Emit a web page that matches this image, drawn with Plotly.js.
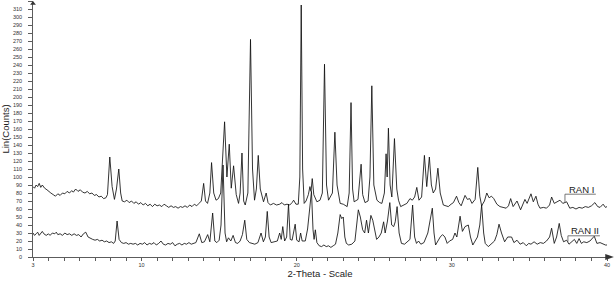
<!DOCTYPE html>
<html>
<head>
<meta charset="utf-8">
<script src="https://cdn.plot.ly/plotly-3.0.1.min.js"></script>
<style>html,body{margin:0;padding:0;background:#fff;}#chart{width:614px;height:282px;}</style>
</head>
<body>
<div id="chart"></div>
<script>
const ran1X = [3.0,3.1,3.2,3.3,3.4,3.5,3.6,3.75,3.9,4.0,4.15,4.3,4.45,4.6,4.75,4.9,5.05,5.2,5.35,5.5,5.6,5.75,5.9,6.05,6.2,6.35,6.5,6.65,6.8,6.95,7.1,7.25,7.4,7.55,7.7,7.8,7.95,8.1,8.25,8.38,8.53,8.65,8.75,8.9,9.05,9.2,9.35,9.5,9.65,9.8,9.95,10.1,10.25,10.4,10.55,10.7,10.85,11.0,11.15,11.3,11.45,11.6,11.75,11.9,12.05,12.2,12.35,12.5,12.65,12.8,12.95,13.1,13.25,13.4,13.55,13.7,13.85,14.0,14.12,14.25,14.4,14.51,14.65,14.8,14.95,15.1,15.35,15.5,15.65,15.78,15.93,16.1,16.25,16.35,16.47,16.58,16.68,16.85,17.02,17.15,17.28,17.4,17.52,17.65,17.86,18.03,18.15,18.3,18.5,18.7,18.9,19.05,19.2,19.37,19.55,19.7,19.8,19.95,20.1,20.2,20.29,20.38,20.48,20.6,20.75,20.85,20.92,21.0,21.1,21.3,21.5,21.65,21.79,21.92,22.05,22.3,22.46,22.6,22.8,23.0,23.12,23.25,23.38,23.5,23.6,23.7,23.95,24.15,24.25,24.4,24.6,24.72,24.84,24.97,25.17,25.35,25.49,25.65,25.76,25.83,25.91,26.02,26.13,26.3,26.45,26.56,26.7,26.9,27.1,27.3,27.45,27.6,27.74,27.88,28.05,28.23,28.38,28.55,28.68,28.8,28.95,29.1,29.25,29.45,29.6,29.77,29.95,30.1,30.3,30.45,30.6,30.85,31.0,31.15,31.3,31.5,31.67,31.8,31.92,32.1,32.25,32.4,32.55,32.7,32.9,33.1,33.3,33.5,33.65,33.79,33.95,34.2,34.43,34.6,34.71,34.85,35.1,35.25,35.42,35.55,35.68,35.9,36.1,36.3,36.43,36.6,36.8,36.97,37.15,37.4,37.6,37.8,38.0,38.2,38.4,38.6,38.8,39.0,39.22,39.4,39.55,39.75,39.9,40.0];
const ran1Y = [88,86,90,88,92,87,90,86,84,82,80,78,76,79,77,80,79,82,80,83,81,85,82,84,81,80,82,79,80,77,78,75,76,73,74,78,125,88,72,85,110,80,70,69,71,68,70,67,69,66,68,65,67,64,66,63,66,64,65,63,66,64,62,64,62,63,61,63,62,64,62,65,63,66,64,67,70,92,70,67,80,118,80,71,73,80,169,100,141,86,114,78,67,80,130,70,65,80,272,110,71,85,127,85,69,80,68,65,67,65,66,68,65,66,65,68,71,66,66,100,315,110,67,70,78,88,82,98,78,69,71,80,241,90,71,80,156,90,67,66,65,63,80,193,85,69,72,116,78,68,70,100,214,90,71,68,67,80,129,100,161,90,75,148,85,71,63,65,67,73,71,75,87,71,75,127,88,125,90,80,85,111,80,65,64,63,66,68,76,68,64,77,72,73,67,72,112,76,64,70,80,74,76,73,66,63,62,61,64,73,63,70,59,66,72,67,79,69,76,66,61,62,61,65,75,67,69,71,67,69,61,62,60,62,61,63,62,64,68,63,62,66,62,63];

const ran2X = [3.0,3.1,3.2,3.3,3.4,3.5,3.6,3.7,3.85,4.0,4.1,4.25,4.4,4.5,4.6,4.75,4.9,5.05,5.2,5.35,5.5,5.65,5.8,5.95,6.1,6.25,6.4,6.55,6.7,6.85,7.0,7.15,7.3,7.45,7.6,7.75,7.9,8.05,8.2,8.3,8.42,8.55,8.7,8.85,9.0,9.15,9.3,9.45,9.6,9.75,9.9,10.05,10.2,10.35,10.5,10.65,10.8,10.95,11.1,11.25,11.4,11.55,11.7,11.85,12.0,12.15,12.3,12.45,12.6,12.75,12.9,13.05,13.2,13.35,13.5,13.72,13.88,14.05,14.26,14.4,14.58,14.72,14.85,15.0,15.12,15.25,15.38,15.48,15.6,15.75,15.9,16.05,16.2,16.35,16.5,16.65,16.78,16.95,17.15,17.3,17.5,17.7,17.85,17.98,18.1,18.22,18.35,18.55,18.75,18.9,19.0,19.1,19.22,19.35,19.47,19.58,19.7,19.9,20.0,20.15,20.25,20.35,20.55,20.7,20.85,20.95,21.05,21.12,21.2,21.3,21.45,21.6,21.75,21.9,22.05,22.2,22.35,22.5,22.65,22.8,22.9,23.0,23.1,23.2,23.35,23.55,23.75,23.97,24.1,24.25,24.38,24.5,24.62,24.78,24.9,25.05,25.15,25.3,25.45,25.6,25.7,25.85,26.0,26.12,26.25,26.35,26.47,26.6,26.75,26.95,27.15,27.3,27.47,27.6,27.72,27.85,28.0,28.2,28.45,28.6,28.74,28.85,28.95,29.1,29.25,29.4,29.55,29.7,29.85,30.05,30.2,30.32,30.53,30.68,30.85,31.06,31.2,31.35,31.5,31.65,31.8,31.92,32.05,32.15,32.35,32.55,32.75,32.9,33.04,33.2,33.4,33.6,33.85,34.0,34.2,34.4,34.6,34.8,34.95,35.1,35.3,35.5,35.7,35.9,36.1,36.3,36.43,36.6,36.75,36.92,37.05,37.2,37.4,37.55,37.75,37.9,38.05,38.2,38.35,38.5,38.7,38.9,39.18,39.35,39.55,39.75,39.9,40.0];
const ran2Y = [30,27,29,31,27,30,32,29,27,29,27,30,29,31,28,29,27,30,28,29,27,29,27,28,25,29,31,25,23,22,21,22,20,21,19,20,18,19,17,20,45,22,18,17,18,16,17,16,17,15,17,16,18,15,17,16,18,15,17,20,16,15,17,16,18,14,16,17,15,17,16,18,16,17,18,29,18,19,28,19,55,20,18,21,40,115,30,19,24,20,27,18,17,20,28,46,22,18,17,16,18,30,19,25,57,25,18,19,20,30,22,38,20,25,66,22,21,41,21,19,30,20,20,35,70,82,34,22,34,18,14,13,15,13,14,12,14,16,30,53,48,50,25,17,15,16,20,59,50,34,30,46,30,52,46,30,22,25,30,44,30,45,68,40,38,44,63,30,17,16,19,22,65,25,17,20,16,18,30,47,61,30,15,20,25,28,25,17,20,22,30,25,51,32,38,40,25,15,20,25,40,65,30,17,13,17,20,28,41,30,19,25,25,18,21,16,18,14,17,16,19,16,18,17,20,25,36,17,25,42,27,19,21,16,19,22,17,23,17,19,18,20,26,17,18,16,15,15];

const seriesNames = ["RAN I", "RAN II"];
const xTickVals = [];
for (let v = 3; v <= 40; v++) xTickVals.push(v);
const xLabelled = [3, 10, 20, 30, 40];
const xTickText = xTickVals.map(v => xLabelled.includes(v) ? String(v) : "");
const xRange = [3, 40];
const yRange = [0, 320];

const lineStyle = {color: "#111", width: 0.85};
const traces = [
  {x: ran1X, y: ran1Y, type: "scatter", mode: "lines", name: seriesNames[0], line: lineStyle, hoverinfo: "skip"},
  {x: ran2X, y: ran2Y, type: "scatter", mode: "lines", name: seriesNames[1], line: lineStyle, hoverinfo: "skip"}
];

const fam = "Liberation Sans, Arial, sans-serif";
const tickFont = {family: fam, size: 5.5, color: "#333"};
const layout = {
  width: 614, height: 282,
  margin: {l: 33, r: 7, t: 1, b: 25, pad: 0},
  paper_bgcolor: "#fff", plot_bgcolor: "#fff",
  showlegend: false,
  xaxis: {
    range: xRange, tickmode: "array", tickvals: xTickVals, ticktext: xTickText,
    ticks: "outside", ticklen: 3, tickwidth: 0.8, tickcolor: "#333",
    showline: true, linecolor: "#333", linewidth: 0.8, showgrid: false, zeroline: false,
    tickfont: tickFont, automargin: false,
    title: {text: "2-Theta - Scale", font: {family: fam, size: 9.5, color: "#222"}, standoff: 2}
  },
  yaxis: {
    range: yRange, dtick: 10, tick0: 0,
    ticks: "outside", ticklen: 4, tickwidth: 0.8, tickcolor: "#333",
    showline: true, linecolor: "#333", linewidth: 0.8, showgrid: false, zeroline: false,
    tickfont: tickFont, automargin: false, ticklabelstandoff: 5,
    title: {text: "Lin(Counts)", font: {family: fam, size: 9.5, color: "#222"}, standoff: 3}
  },
  shapes: [
    {type: "path", xref: "paper", yref: "paper", path: "M 0.997 -0.012 L 1.012 0 L 0.997 0.012 Z", fillcolor: "#333", line: {width: 0}},
    {type: "path", xref: "paper", yref: "paper", path: "M -0.005 0.985 L 0 1.0 L 0.005 0.985 Z", fillcolor: "#333", line: {width: 0}},
    {type: "line", xref: "x", yref: "y", x0: 37.29, x1: 39.28, y0: 78.5, y1: 78.5, line: {color: "#555", width: 0.8}},
    {type: "line", xref: "x", yref: "y", x0: 37.29, x1: 37.29, y0: 78.5, y1: 68, line: {color: "#555", width: 0.8}},
    {type: "line", xref: "x", yref: "y", x0: 37.48, x1: 39.54, y0: 26.5, y1: 26.5, line: {color: "#555", width: 0.8}},
    {type: "line", xref: "x", yref: "y", x0: 37.48, x1: 37.48, y0: 26.5, y1: 19, line: {color: "#555", width: 0.8}}
  ],
  annotations: [
    {x: 37.4, y: 84.5, xref: "x", yref: "y", text: seriesNames[0], showarrow: false, xanchor: "left", yanchor: "middle",
     font: {family: fam, size: 9.5, color: "#222"}},
    {x: 37.55, y: 33, xref: "x", yref: "y", text: seriesNames[1], showarrow: false, xanchor: "left", yanchor: "middle",
     font: {family: fam, size: 9.5, color: "#222"}}
  ]
};

Plotly.newPlot("chart", traces, layout, {displayModeBar: false, staticPlot: true});
</script>
</body>
</html>
